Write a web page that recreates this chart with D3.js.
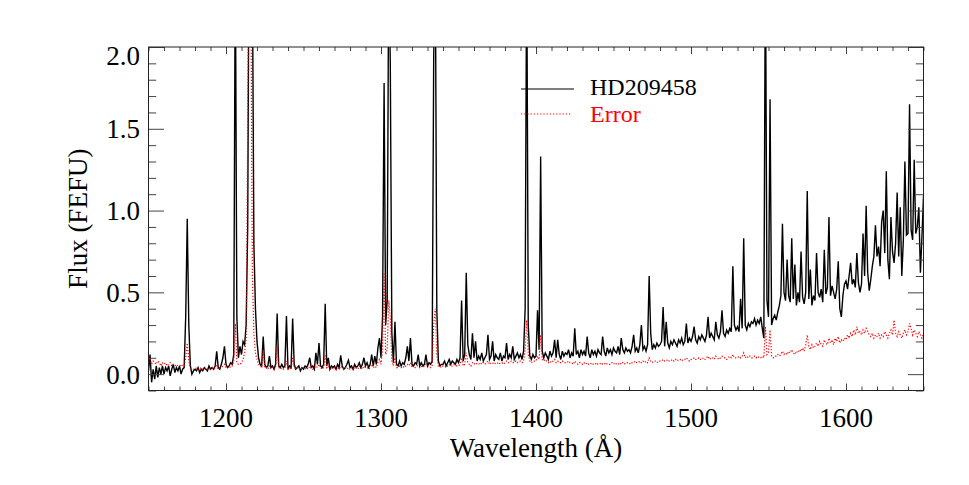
<!DOCTYPE html>
<html>
<head>
<meta charset="utf-8">
<script src="https://cdn.jsdelivr.net/npm/d3@7"></script>
<style>
  html, body { margin: 0; padding: 0; background: #fff; }
  svg { display: block; }
  text { font-family: "Liberation Serif", "Times New Roman", serif; }
</style>
</head>
<body>
<svg id="chart" width="969" height="485"></svg>
<script>
// ---- Data ----
const waveStart = 1150;   // Å, first sample
const waveStep = 1;       // Å per sample

// HD209458 flux (FEFU), one value per Å from 1150 to 1650
const flux = [
  0.02, 0.12, -0.05, 0.03, -0.03, 0.05, -0.02, 0.04, 0.00, 0.05,   // 1150
  0.00, 0.04, 0.02, 0.05, -0.01, 0.03, 0.06, 0.01, 0.04, 0.02,     // 1160
  0.05, 0.00, 0.03, 0.04, 0.35, 0.95, 0.30, 0.05, 0.00, 0.02,      // 1170
  0.03, 0.02, 0.04, 0.01, 0.03, 0.02, 0.04, 0.03, 0.02, 0.05,      // 1180
  0.03, 0.04, 0.03, 0.05, 0.14, 0.04, 0.03, 0.06, 0.10, 0.17,      // 1190
  0.06, 0.04, 0.05, 0.07, 0.06, 0.12, 2.60, 0.35, 0.10, 0.17,      // 1200
  0.12, 0.20, 0.18, 0.30, 0.90, 3.00, 3.00, 2.50, 0.79, 0.40,      // 1210
  0.20, 0.10, 0.06, 0.05, 0.23, 0.06, 0.04, 0.05, 0.11, 0.04,      // 1220
  0.05, 0.03, 0.06, 0.37, 0.05, 0.04, 0.06, 0.04, 0.05, 0.355,     // 1230
  0.03, 0.05, 0.04, 0.34, 0.06, 0.03, 0.04, 0.05, 0.02, 0.04,      // 1240
  0.03, 0.05, 0.04, 0.06, 0.10, 0.04, 0.05, 0.03, 0.13, 0.06,      // 1250
  0.19, 0.05, 0.04, 0.06, 0.43, 0.05, 0.10, 0.03, 0.05, 0.04,      // 1260
  0.05, 0.03, 0.06, 0.04, 0.115, 0.05, 0.03, 0.04, 0.06, 0.085,    // 1270
  0.04, 0.05, 0.03, 0.06, 0.04, 0.05, 0.07, 0.04, 0.06, 0.10,      // 1280
  0.05, 0.07, 0.04, 0.06, 0.12, 0.05, 0.11, 0.06, 0.16, 0.22,      // 1290
  0.10, 0.35, 1.78, 0.30, 0.45, 2.60, 1.89, 0.25, 0.07, 0.32,      // 1300
  0.06, 0.05, 0.08, 0.05, 0.07, 0.06, 0.10, 0.17, 0.08, 0.22,      // 1310
  0.06, 0.05, 0.07, 0.06, 0.12, 0.05, 0.07, 0.05, 0.06, 0.12,      // 1320
  0.05, 0.07, 0.06, 0.08, 1.93, 2.60, 0.40, 0.08, 0.05, 0.06,      // 1330
  0.06, 0.08, 0.05, 0.07, 0.09, 0.06, 0.08, 0.07, 0.06, 0.09,      // 1340
  0.07, 0.10, 0.45, 0.08, 0.12, 0.62, 0.18, 0.12, 0.09, 0.25,      // 1350
  0.10, 0.20, 0.08, 0.11, 0.09, 0.13, 0.08, 0.10, 0.12, 0.24,      // 1360
  0.09, 0.11, 0.20, 0.08, 0.12, 0.10, 0.09, 0.13, 0.08, 0.11,      // 1370
  0.10, 0.19, 0.09, 0.12, 0.10, 0.17, 0.09, 0.11, 0.13, 0.10,      // 1380
  0.12, 0.09, 0.14, 0.40, 2.60, 0.30, 0.11, 0.09, 0.12, 0.10,      // 1390
  0.11, 0.39, 0.15, 1.33, 0.14, 0.10, 0.13, 0.11, 0.09, 0.14,      // 1400
  0.11, 0.13, 0.21, 0.10, 0.21, 0.12, 0.09, 0.14, 0.11, 0.13,      // 1410
  0.12, 0.15, 0.10, 0.13, 0.11, 0.28, 0.12, 0.14, 0.10, 0.15,      // 1420
  0.12, 0.14, 0.11, 0.23, 0.13, 0.10, 0.15, 0.12, 0.14, 0.11,      // 1430
  0.15, 0.13, 0.12, 0.23, 0.14, 0.11, 0.16, 0.13, 0.15, 0.12,      // 1440
  0.16, 0.14, 0.13, 0.17, 0.12, 0.22, 0.15, 0.13, 0.16, 0.14,      // 1450
  0.15, 0.13, 0.17, 0.24, 0.14, 0.16, 0.13, 0.18, 0.30, 0.15,      // 1460
  0.17, 0.14, 0.18, 0.60, 0.25, 0.15, 0.18, 0.16, 0.19, 0.17,      // 1470
  0.18, 0.20, 0.41, 0.17, 0.32, 0.19, 0.16, 0.20, 0.18, 0.21,      // 1480
  0.19, 0.17, 0.21, 0.19, 0.22, 0.18, 0.20, 0.31, 0.19, 0.22,      // 1490
  0.20, 0.23, 0.29, 0.21, 0.19, 0.23, 0.21, 0.24, 0.22, 0.20,      // 1500
  0.24, 0.35, 0.22, 0.25, 0.23, 0.21, 0.32, 0.24, 0.22, 0.26,      // 1510
  0.39, 0.25, 0.23, 0.27, 0.25, 0.28, 0.26, 0.66, 0.30, 0.27,      // 1520
  0.29, 0.26, 0.46, 0.28, 0.83, 0.30, 0.27, 0.31, 0.29, 0.32,      // 1530
  0.31, 0.34, 0.30, 0.33, 0.31, 0.35, 0.28, 0.22, 2.60, 0.45,      // 1540
  0.35, 1.68, 0.30, 0.34, 0.36, 0.33, 0.38, 0.42, 0.48, 0.92,      // 1550
  0.50, 0.45, 0.70, 0.48, 0.44, 0.83, 0.46, 0.67, 0.42, 0.50,      // 1560
  0.44, 0.75, 0.47, 0.43, 0.50, 1.12, 0.46, 0.64, 0.42, 0.48,      // 1570
  0.45, 0.74, 0.50, 0.47, 0.52, 0.44, 0.76, 0.49, 0.53, 0.96,      // 1580
  0.48, 0.54, 0.50, 0.46, 0.52, 0.69, 0.40, 0.35, 0.48, 0.55,      // 1590
  0.57, 0.52, 0.60, 0.68, 0.55, 0.58, 0.53, 0.74, 0.56, 0.50,      // 1600
  0.55, 0.86, 0.60, 1.03, 0.62, 0.51, 0.58, 0.66, 0.72, 0.91,      // 1610
  0.72, 0.78, 0.66, 0.93, 1.00, 0.74, 1.24, 0.70, 0.58, 0.96,      // 1620
  0.75, 0.68, 0.80, 1.11, 0.72, 1.02, 0.60, 0.82, 1.30, 0.85,      // 1630
  0.86, 1.65, 0.88, 0.82, 1.31, 0.86, 0.90, 1.02, 0.62, 0.84, 1.09 // 1640-1650
];

// Error spectrum (FEFU), same sampling
const error = [
  0.07, 0.09, 0.06, 0.08, 0.07, 0.06, 0.08, 0.07, 0.05, 0.07,      // 1150
  0.06, 0.07, 0.05, 0.06, 0.07, 0.05, 0.06, 0.05, 0.06, 0.05,      // 1160
  0.05, 0.06, 0.05, 0.05, 0.10, 0.19, 0.08, 0.04, 0.03, 0.03,      // 1170
  0.03, 0.04, 0.03, 0.03, 0.04, 0.03, 0.03, 0.04, 0.03, 0.03,      // 1180
  0.03, 0.04, 0.03, 0.04, 0.06, 0.03, 0.04, 0.04, 0.05, 0.06,      // 1190
  0.04, 0.04, 0.05, 0.04, 0.05, 0.08, 0.31, 0.07, 0.06, 0.06,      // 1200
  0.07, 0.09, 0.13, 0.22, 1.50, 3.00, 2.50, 0.60, 0.25, 0.13,      // 1210
  0.09, 0.06, 0.05, 0.04, 0.15, 0.04, 0.04, 0.03, 0.05, 0.04,      // 1220
  0.04, 0.03, 0.04, 0.17, 0.04, 0.03, 0.04, 0.03, 0.04, 0.08,      // 1230
  0.03, 0.04, 0.03, 0.10, 0.04, 0.03, 0.04, 0.03, 0.04, 0.03,      // 1240
  0.04, 0.03, 0.04, 0.03, 0.05, 0.04, 0.03, 0.04, 0.05, 0.04,      // 1250
  0.06, 0.04, 0.03, 0.04, 0.12, 0.04, 0.05, 0.03, 0.04, 0.03,      // 1260
  0.04, 0.03, 0.04, 0.03, 0.05, 0.04, 0.03, 0.04, 0.03, 0.04,      // 1270
  0.03, 0.04, 0.03, 0.04, 0.04, 0.03, 0.05, 0.04, 0.03, 0.05,      // 1280
  0.04, 0.04, 0.03, 0.04, 0.06, 0.04, 0.05, 0.04, 0.07, 0.09,      // 1290
  0.06, 0.15, 0.62, 0.12, 0.15, 0.45, 0.35, 0.08, 0.05, 0.10,      // 1300
  0.04, 0.04, 0.05, 0.04, 0.05, 0.04, 0.05, 0.06, 0.05, 0.07,      // 1310
  0.04, 0.05, 0.04, 0.05, 0.05, 0.04, 0.05, 0.04, 0.05, 0.06,      // 1320
  0.05, 0.05, 0.04, 0.05, 0.30, 0.40, 0.12, 0.05, 0.05, 0.04,      // 1330
  0.05, 0.05, 0.04, 0.05, 0.06, 0.05, 0.05, 0.06, 0.05, 0.05,      // 1340
  0.05, 0.06, 0.10, 0.05, 0.06, 0.13, 0.07, 0.06, 0.05, 0.07,      // 1350
  0.06, 0.07, 0.06, 0.06, 0.07, 0.06, 0.07, 0.06, 0.07, 0.08,      // 1360
  0.06, 0.07, 0.07, 0.06, 0.07, 0.07, 0.06, 0.07, 0.07, 0.06,      // 1370
  0.07, 0.08, 0.07, 0.07, 0.08, 0.07, 0.07, 0.08, 0.07, 0.08,      // 1380
  0.08, 0.07, 0.08, 0.15, 0.33, 0.12, 0.08, 0.07, 0.08, 0.08,      // 1390
  0.08, 0.11, 0.09, 0.24, 0.09, 0.08, 0.09, 0.08, 0.07, 0.08,      // 1400
  0.07, 0.08, 0.09, 0.07, 0.08, 0.07, 0.07, 0.08, 0.07, 0.07,      // 1410
  0.07, 0.08, 0.07, 0.07, 0.06, 0.08, 0.07, 0.06, 0.07, 0.07,      // 1420
  0.06, 0.07, 0.06, 0.07, 0.06, 0.06, 0.07, 0.06, 0.06, 0.07,      // 1430
  0.06, 0.06, 0.07, 0.06, 0.06, 0.07, 0.06, 0.06, 0.06, 0.07,      // 1440
  0.06, 0.07, 0.06, 0.06, 0.07, 0.06, 0.07, 0.06, 0.07, 0.07,      // 1450
  0.07, 0.06, 0.07, 0.07, 0.08, 0.07, 0.07, 0.08, 0.07, 0.08,      // 1460
  0.07, 0.08, 0.07, 0.10, 0.08, 0.07, 0.08, 0.08, 0.07, 0.08,      // 1470
  0.08, 0.08, 0.09, 0.08, 0.08, 0.09, 0.08, 0.08, 0.09, 0.08,      // 1480
  0.09, 0.08, 0.09, 0.09, 0.08, 0.09, 0.09, 0.10, 0.09, 0.08,      // 1490
  0.09, 0.09, 0.10, 0.09, 0.09, 0.10, 0.09, 0.09, 0.10, 0.09,      // 1500
  0.10, 0.11, 0.09, 0.10, 0.10, 0.09, 0.11, 0.10, 0.09, 0.10,      // 1510
  0.11, 0.10, 0.10, 0.09, 0.10, 0.11, 0.10, 0.12, 0.10, 0.10,      // 1520
  0.10, 0.11, 0.10, 0.11, 0.13, 0.10, 0.11, 0.10, 0.11, 0.10,      // 1530
  0.10, 0.11, 0.10, 0.11, 0.10, 0.10, 0.11, 0.10, 0.29, 0.12,      // 1540
  0.13, 0.27, 0.11, 0.10, 0.11, 0.11, 0.12, 0.11, 0.12, 0.14,      // 1550
  0.12, 0.13, 0.12, 0.14, 0.13, 0.15, 0.13, 0.12, 0.14, 0.13,      // 1560
  0.15, 0.14, 0.16, 0.14, 0.18, 0.24, 0.17, 0.15, 0.18, 0.16,      // 1570
  0.17, 0.19, 0.17, 0.20, 0.18, 0.17, 0.21, 0.19, 0.18, 0.22,      // 1580
  0.19, 0.21, 0.18, 0.22, 0.20, 0.23, 0.19, 0.21, 0.20, 0.22,      // 1590
  0.21, 0.24, 0.22, 0.25, 0.23, 0.27, 0.24, 0.29, 0.25, 0.26,      // 1600
  0.24, 0.27, 0.25, 0.28, 0.26, 0.24, 0.23, 0.25, 0.22, 0.24,      // 1610
  0.23, 0.25, 0.22, 0.24, 0.23, 0.26, 0.24, 0.22, 0.25, 0.27,      // 1620
  0.24, 0.33, 0.25, 0.23, 0.26, 0.24, 0.22, 0.25, 0.27, 0.24,      // 1630
  0.26, 0.31, 0.28, 0.24, 0.27, 0.25, 0.23, 0.26, 0.24, 0.22, 0.25 // 1640-1650
];

const xMajorTicks = [1200, 1300, 1400, 1500, 1600];
const xTickLabels = ["1200", "1300", "1400", "1500", "1600"];
const yMajorTicks = [0.0, 0.5, 1.0, 1.5, 2.0];
const yTickLabels = ["0.0", "0.5", "1.0", "1.5", "2.0"];
const seriesNames = ["HD209458", "Error"];
const seriesColors = ["#000000", "#ff0000"];
const xTitle = "Wavelength (Å)";
const yTitle = "Flux (FEFU)";

// ---- Layout ----
const W = 969, H = 485;
const plot = { left: 148.5, right: 923.5, top: 47, bottom: 390.5 };

const svg = d3.select("#chart");

const x = d3.scaleLinear().domain([1150, 1650]).range([plot.left, plot.right]);
const y = d3.scaleLinear().domain([-0.1, 2.0]).range([plot.bottom, plot.top]);

const xMinor = d3.range(1150, 1651, 10).filter(v => !xMajorTicks.includes(v));
const yMinor = d3.range(-1, 21).map(i => +(i / 10).toFixed(1)).filter(v => !yMajorTicks.includes(v));

const waves = flux.map((_, i) => waveStart + i * waveStep);

// clip
svg.append("defs").append("clipPath").attr("id", "plotclip")
  .append("rect")
  .attr("x", plot.left).attr("y", plot.top)
  .attr("width", plot.right - plot.left).attr("height", plot.bottom - plot.top);

const g = svg.append("g").attr("clip-path", "url(#plotclip)");

const line = d3.line()
  .x((d, i) => x(waves[i]))
  .y(d => y(d));

g.append("path")
  .datum(flux)
  .attr("fill", "none")
  .attr("stroke", seriesColors[0])
  .attr("stroke-width", 1.4)
  .attr("stroke-linejoin", "miter")
  .attr("d", line);

g.append("path")
  .datum(error)
  .attr("fill", "none")
  .attr("stroke", seriesColors[1])
  .attr("stroke-width", 1.2)
  .attr("stroke-dasharray", "1.2,1.8")
  .attr("d", line);

// ---- Axes (ticks pointing inward, on all four sides) ----
const axisColor = "#444";
function styleAxis(sel) {
  sel.selectAll("path.domain").remove();
  sel.selectAll("line").attr("stroke", axisColor).attr("stroke-width", 1);
  sel.selectAll("text").remove();
}

svg.append("g").attr("transform", `translate(0,${plot.bottom})`)
  .call(d3.axisBottom(x).tickValues(xMajorTicks).tickSize(-7).tickFormat("")).call(styleAxis);
svg.append("g").attr("transform", `translate(0,${plot.bottom})`)
  .call(d3.axisBottom(x).tickValues(xMinor).tickSize(-4).tickFormat("")).call(styleAxis);
svg.append("g").attr("transform", `translate(0,${plot.top})`)
  .call(d3.axisTop(x).tickValues(xMajorTicks).tickSize(-7).tickFormat("")).call(styleAxis);
svg.append("g").attr("transform", `translate(0,${plot.top})`)
  .call(d3.axisTop(x).tickValues(xMinor).tickSize(-4).tickFormat("")).call(styleAxis);

svg.append("g").attr("transform", `translate(${plot.left},0)`)
  .call(d3.axisLeft(y).tickValues(yMajorTicks).tickSize(-15.5).tickFormat("")).call(styleAxis);
svg.append("g").attr("transform", `translate(${plot.left},0)`)
  .call(d3.axisLeft(y).tickValues(yMinor).tickSize(-7.7).tickFormat("")).call(styleAxis);
svg.append("g").attr("transform", `translate(${plot.right},0)`)
  .call(d3.axisRight(y).tickValues(yMajorTicks).tickSize(-15.5).tickFormat("")).call(styleAxis);
svg.append("g").attr("transform", `translate(${plot.right},0)`)
  .call(d3.axisRight(y).tickValues(yMinor).tickSize(-7.7).tickFormat("")).call(styleAxis);

// frame
svg.append("rect")
  .attr("x", plot.left).attr("y", plot.top)
  .attr("width", plot.right - plot.left).attr("height", plot.bottom - plot.top)
  .attr("fill", "none").attr("stroke", "#222").attr("stroke-width", 1);

// tick labels
const tickFont = 27;
svg.append("g").selectAll("text").data(xMajorTicks).join("text")
  .attr("x", d => x(d)).attr("y", 427)
  .attr("text-anchor", "middle")
  .attr("font-size", tickFont).attr("fill", "#000")
  .text((d, i) => xTickLabels[i]);

// the top label sits just below the frame, as in the reference
svg.append("g").selectAll("text").data(yMajorTicks).join("text")
  .attr("x", 140).attr("y", d => Math.max(y(d), plot.top + 8) + 9.5)
  .attr("text-anchor", "end")
  .attr("font-size", tickFont).attr("fill", "#000")
  .text((d, i) => yTickLabels[i]);

// axis titles
svg.append("text")
  .attr("x", (plot.left + plot.right) / 2).attr("y", 457)
  .attr("text-anchor", "middle").attr("font-size", 27).attr("fill", "#000")
  .text(xTitle);

svg.append("text")
  .attr("transform", `translate(87,${(plot.top + plot.bottom) / 2}) rotate(-90)`)
  .attr("text-anchor", "middle").attr("font-size", 27).attr("fill", "#000")
  .text(yTitle);

// legend
const legend = svg.append("g");
const legendRows = [
  { name: seriesNames[0], color: seriesColors[0], ly: 89, ty: 95.3, dash: null, x2: 574 },
  { name: seriesNames[1], color: seriesColors[1], ly: 114, ty: 122.2, dash: "1.2,2", x2: 572 }
];
legendRows.forEach(r => {
  legend.append("line")
    .attr("x1", 521).attr("x2", r.x2).attr("y1", r.ly).attr("y2", r.ly)
    .attr("stroke", r.color).attr("stroke-width", 1.2)
    .attr("stroke-dasharray", r.dash);
  legend.append("text")
    .attr("x", 590).attr("y", r.ty)
    .attr("font-size", 24).attr("fill", r.color)
    .text(r.name);
});
</script>
</body>
</html>
